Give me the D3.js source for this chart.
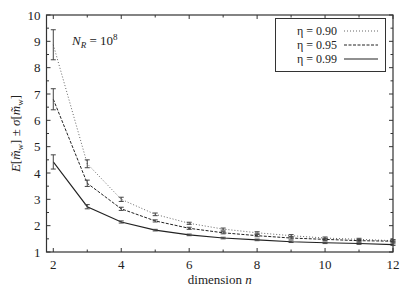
<!DOCTYPE html>
<html><head><meta charset="utf-8">
<script src="https://cdn.jsdelivr.net/npm/d3@7"></script>
<style>body{margin:0;background:#fff}svg{display:block}</style>
</head><body><svg id="c" width="415" height="291"></svg>
<script>
const dims = [2,3,4,5,6,7,8,9,10,11,12];
const eta090 = [8.87,4.35,3.00,2.43,2.09,1.87,1.73,1.62,1.53,1.48,1.43];
const err090 = [0.57,0.15,0.08,0.05,0.04,0.04,0.04,0.04,0.04,0.04,0.04];
const eta095 = [6.80,3.61,2.64,2.18,1.90,1.73,1.62,1.53,1.48,1.43,1.41];
const err095 = [0.40,0.12,0.06,0.04,0.04,0.04,0.04,0.04,0.04,0.04,0.04];
const eta099 = [4.42,2.72,2.14,1.83,1.65,1.53,1.46,1.39,1.35,1.32,1.28];
const err099 = [0.27,0.08,0.04,0.03,0.03,0.03,0.03,0.03,0.03,0.03,0.03];
const legendLabels = ["η = 0.90","η = 0.95","η = 0.99"];
const xTicks = [2,4,6,8,10,12];
const yTicks = [1,2,3,4,5,6,7,8,9,10];

const svg = d3.select("#c");
const FONT = "'Liberation Serif','DejaVu Serif','Times New Roman',serif";
const L=46.5, R=393, T=15, B=252;
const x = d3.scaleLinear().domain([1.8,12]).range([L,R]);
const y = d3.scaleLinear().domain([1,10]).range([B,T]);
const g = svg.append("g").attr("fill","#222");
const txt = (sel)=>sel.append("text").style("font-family",FONT);

const xMinor = d3.range(2,13,1);
const yMinor = d3.range(1,10.01,0.5);
xMinor.forEach(v=>{
  const len = xTicks.includes(v)?4:2.5;
  g.append("line").attr("x1",x(v)).attr("x2",x(v)).attr("y1",B).attr("y2",B-len).attr("stroke","#333");
  g.append("line").attr("x1",x(v)).attr("x2",x(v)).attr("y1",T).attr("y2",T+len).attr("stroke","#333");
});
yMinor.forEach(v=>{
  const len = Number.isInteger(v)?4:2.5;
  g.append("line").attr("x1",L).attr("x2",L+len).attr("y1",y(v)).attr("y2",y(v)).attr("stroke","#333");
  g.append("line").attr("x1",R).attr("x2",R-len).attr("y1",y(v)).attr("y2",y(v)).attr("stroke","#333");
});
g.append("rect").attr("x",L).attr("y",T).attr("width",R-L).attr("height",B-T).attr("fill","none").attr("stroke","#333").attr("stroke-width",1.2);

xTicks.forEach(v=>txt(g).attr("x",x(v)).attr("y",B+17).attr("text-anchor","middle").attr("font-size",13).text(v));
yTicks.forEach(v=>txt(g).attr("x",L-6).attr("y",y(v)+4.5).attr("text-anchor","end").attr("font-size",13).text(v));

const xl = txt(g).attr("x",(L+R)/2).attr("y",284).attr("text-anchor","middle").attr("font-size",13);
xl.append("tspan").text("dimension ");
xl.append("tspan").attr("font-style","italic").text("n");

const yl = txt(g).attr("transform",`translate(20,${(T+B)/2}) rotate(-90)`).attr("text-anchor","middle").attr("font-size",13);
yl.append("tspan").attr("font-style","italic").text("E");
yl.append("tspan").text("[");
yl.append("tspan").attr("font-style","italic").text("m\u0303");
yl.append("tspan").attr("font-size",9).attr("dy",3).text("w");
yl.append("tspan").attr("dy",-3).text("] ± ");
yl.append("tspan").attr("font-style","italic").text("σ");
yl.append("tspan").text("[");
yl.append("tspan").attr("font-style","italic").text("m\u0303");
yl.append("tspan").attr("font-size",9).attr("dy",3).text("w");
yl.append("tspan").attr("dy",-3).text("]");

const an = txt(g).attr("x",72).attr("y",45).attr("font-size",13);
an.append("tspan").attr("font-style","italic").text("N");
an.append("tspan").attr("font-size",9).attr("dy",3).attr("font-style","italic").text("R");
an.append("tspan").attr("dy",-3).text(" = 10");
an.append("tspan").attr("font-size",9).attr("dy",-5).text("8");

const series = [
  {vals:eta090, errs:err090, dash:"1,2", color:"#555", w:0.9},
  {vals:eta095, errs:err095, dash:"3,1.5", color:"#222", w:1},
  {vals:eta099, errs:err099, dash:null, color:"#222", w:1.1}
];
const line = d3.line().x(d=>x(d[0])).y(d=>y(d[1]));
series.forEach(s=>{
  const pts = dims.map((d,i)=>[d,s.vals[i],s.errs[i]]);
  g.append("path").attr("d",line(pts)).attr("fill","none").attr("stroke",s.color).attr("stroke-width",s.w).attr("stroke-dasharray",s.dash);
  pts.forEach(p=>{
    const cx=x(p[0]), y1=y(p[1]-p[2]), y2=y(p[1]+p[2]);
    g.append("line").attr("x1",cx).attr("x2",cx).attr("y1",y1).attr("y2",y2).attr("stroke","#444").attr("stroke-width",1);
    [y1,y2].forEach(yy=>g.append("line").attr("x1",cx-2.5).attr("x2",cx+2.5).attr("y1",yy).attr("y2",yy).attr("stroke","#444").attr("stroke-width",1));
  });
});

const lg = g.append("g");
lg.append("rect").attr("x",275.5).attr("y",18.5).attr("width",110).attr("height",53).attr("fill","#fff").attr("stroke","#333").attr("stroke-width",1);
series.forEach((s,i)=>{
  const yy = 31 + i*14;
  txt(lg).attr("x",337).attr("y",yy+4).attr("text-anchor","end").attr("font-size",12).text(legendLabels[i]);
  lg.append("line").attr("x1",344).attr("x2",378).attr("y1",yy).attr("y2",yy).attr("stroke",s.color).attr("stroke-width",s.w).attr("stroke-dasharray",s.dash);
});
</script></body></html>
